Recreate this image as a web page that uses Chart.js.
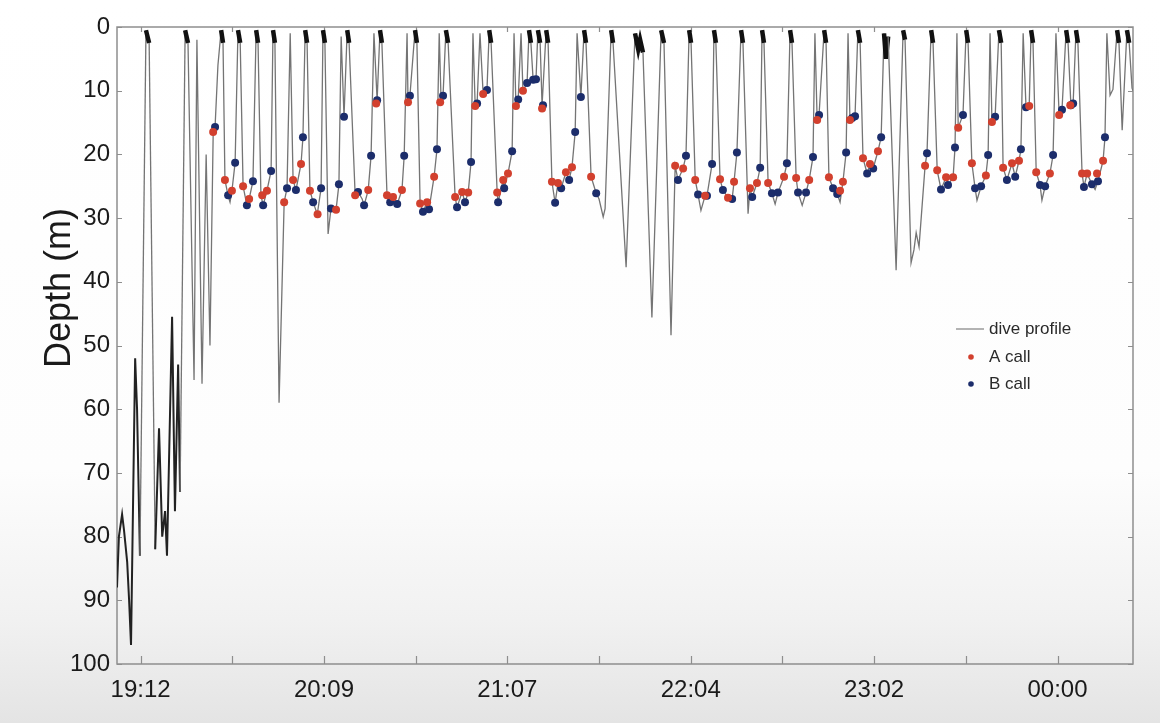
<!DOCTYPE html>
<html>
<head>
<meta charset="utf-8">
<title>Dive profile</title>
<script src="https://cdn.jsdelivr.net/npm/chart.js@4.4.1/dist/chart.umd.min.js"></script>
<style>
  html, body { margin: 0; padding: 0; }
  body {
    width: 1160px; height: 723px; overflow: hidden;
    background: linear-gradient(to bottom, #ffffff 0px, #fdfdfd 470px, #f1f1f1 620px, #e4e4e4 723px);
  }
  #wrap { position: relative; width: 1160px; height: 723px; }
</style>
</head>
<body>
<div id="wrap"><canvas id="chart"></canvas></div>
<script>
// time = minutes after 19:00, depth = metres
const diveProfile = [
  [4.6,88],[5.2,80],[6.2,76.5],[6.8,79],[7.8,84],[8.4,90],[9.0,97],[10.3,52],[10.9,60],[11.8,83],
  [13.7,0.5],[14.7,2.5],[16.6,82],[17.8,63],[18.8,80],[19.7,76],[20.3,83],[21.9,45.5],[22.8,76],[23.8,53],[24.4,73],
  [26.0,0.5],[26.9,2.5],[28.8,55.4],[29.7,2],[31.3,56],[32.6,20],[33.8,50],[34.8,17],[35.4,15.7],[36.3,6],
  [37.3,0.5],[37.9,2.5],[38.5,24],[39.5,26.5],[40.1,27.5],[40.7,25.7],[41.7,21.3],
  [42.6,0.5],[43.3,2.5],[44.2,25],[45.4,28],[46.1,27],[47.3,24.2],
  [48.3,0.5],[48.9,2.5],[49.8,26.4],[50.5,28],[51.7,25.7],[53.0,22.6],
  [53.6,0.5],[54.2,2.5],[55.5,59],[57.1,27.5],[58.0,25.3],[59.0,1],[59.9,24],[60.8,25.6],[62.4,21.5],[63.0,17.3],
  [63.7,0.5],[64.3,2.5],[65.2,25.7],[66.2,27.5],[67.5,29.4],[68.7,25.3],
  [69.3,0.5],[69.9,2.5],[70.9,32.5],[71.8,28.5],[73.4,28.7],[74.3,24.7],[75.0,1.5],[75.9,14.1],
  [76.9,0.5],[77.5,2.5],[79.4,26.4],[80.3,25.9],[81.6,27],[82.2,28],[83.5,25.6],[84.4,20.2],[85.3,1],[86.3,11.5],
  [87.2,0.5],[87.8,2.5],[89.4,26.4],[90.4,27.5],[91.3,26.7],[92.6,27.8],[94.1,25.6],[94.8,20.2],[95.7,1],[96.0,11.8],[96.6,10.8],
  [98.2,0.5],[98.8,2.5],[99.8,27.7],[100.7,29],[102.0,27.5],[102.6,28.6],[104.2,23.5],[105.1,19.2],[105.8,1],[106.4,11.8],[107.0,10.8],
  [107.9,0.5],[108.6,2.5],[110.8,26.7],[111.4,28.3],[113.0,25.9],[113.9,27.5],[114.9,26],[115.8,21.2],[116.4,1],[117.1,12.4],[117.7,12],[118.6,1],[119.6,10.5],[120.8,9.9],
  [121.5,0.5],[122.1,2.5],[124.0,26],[124.3,27.5],[125.9,24],[126.2,25.3],[127.4,23],[128.7,19.5],[129.3,1],[129.9,12.4],[130.6,11.4],[131.5,1],[132.1,10],[133.4,8.8],
  [134.0,0.5],[134.6,2.5],[135.3,8.3],[136.2,8.2],[136.8,0.5],[137.5,2.5],[138.1,12.3],[139.4,0.5],[140.0,2.5],
  [141.2,24.3],[142.2,27.6],[143.1,24.5],[144.1,25.3],[145.6,22.8],[146.6,24],[147.5,22],[148.5,16.5],[149.1,1],[150.3,11],
  [151.3,0.5],[151.9,2.5],[153.5,23.5],[155.1,26.1],[156.0,27],[157.3,29.8],[157.9,28.5],
  [159.8,0.5],[160.4,2.5],[164.5,37.7],[167.3,1],[168.3,3.5],[168.9,2],[169.8,4],[172.6,45.6],
  [175.5,0.5],[176.4,2.5],[178.6,48.4],[179.9,21.8],[180.8,24],[182.4,22.2],[183.3,20.2],
  [184.3,0.5],[184.9,2.5],[186.2,24],[187.1,26.3],[188.0,28.8],[189.3,26.5],[189.9,26.5],[191.5,21.5],
  [192.1,0.5],[192.7,2.5],[194.0,23.9],[194.9,25.6],[196.5,26.8],[197.8,27],[198.4,24.3],[199.3,19.7],
  [200.6,0.5],[201.2,2.5],[202.8,29.3],[203.4,25.3],[204.1,26.7],[205.6,24.5],[206.6,22.1],
  [207.2,0.5],[207.8,2.5],[209.1,24.5],[210.3,26.1],[211.3,27.8],[212.2,26],[214.1,23.5],[215.0,21.4],
  [216.0,0.5],[216.6,2.5],[217.9,23.7],[218.5,26],[219.8,28],[221.0,26],[222.0,24],[223.2,20.4],[223.8,1],[224.5,14.6],[225.1,13.8],
  [226.7,0.5],[227.3,2.5],[228.2,23.6],[229.5,25.3],[230.8,26.2],[231.7,27.5],[232.6,24.3],[233.6,19.7],[234.2,1],[234.8,14.6],[235.5,14.3],[236.4,14],
  [237.3,0.5],[238.0,2.5],[238.9,20.6],[240.2,23],[241.1,21.5],[242.1,22.2],[243.6,19.5],[244.6,17.3],
  [245.5,1],[246.1,5],[246.8,1.5],[249.3,38.2],[251.5,0.5],[252.1,2],[254.0,37],[254.9,35],[255.6,32.3],[256.5,34.5],[258.4,21.8],[259.0,19.8],
  [260.3,0.5],[260.9,2.5],[262.2,22.5],[263.4,25.5],[265.0,23.6],[265.6,24.8],[267.2,23.6],[267.8,18.9],[268.4,1],[268.8,15.8],[270.3,13.8],
  [271.3,0.5],[271.9,2.5],[273.1,21.4],[274.1,25.3],[274.7,27.2],[276.0,25],[277.5,23.3],[278.2,20.1],[278.8,1],[279.4,14.9],[280.4,14.1],
  [281.6,0.5],[282.3,2.5],[282.9,22.1],[284.1,24],[285.7,21.4],[286.7,23.5],[287.9,21],[288.5,19.2],[289.2,1],[290.1,12.6],[291.1,12.4],
  [291.7,0.5],[292.3,2.5],[293.3,22.8],[294.5,24.8],[295.1,27.2],[296.1,25],[297.6,23],[298.6,20.1],[299.5,1],[300.5,13.8],[301.4,13],
  [302.7,0.5],[303.3,2.5],[304.2,12.3],[304.9,12],[305.8,0.5],[306.4,2.5],
  [307.7,23],[308.3,25.1],[309.3,23],[310.8,24.7],[311.8,25.5],[312.7,24.2],[314.3,21],[314.9,17.3],
  [315.5,1],[316.5,10.7],[317.4,9.8],[318.7,0.5],[319.3,2.5],[320.3,16.2],[321.8,0.5],[322.5,2.5],[323.4,9.6],[323.7,10]
];

const aCalls = [
  [34.8,16.5],[38.5,24],[40.7,25.7],[44.2,25],[46.1,27],[50.2,26.4],[51.7,25.7],[57.1,27.5],[59.9,24],[62.4,21.5],
  [65.2,25.7],[67.6,29.4],[73.4,28.7],[79.4,26.4],[83.5,25.6],[86.0,12],[89.4,26.4],[91.3,26.7],[94.1,25.6],[96.0,11.8],
  [99.8,27.7],[102.0,27.5],[104.2,23.5],[106.1,11.8],[110.8,26.7],[113.0,25.9],[114.9,26],[117.1,12.4],[119.6,10.5],
  [124.0,26],[125.9,24],[127.4,23],[129.9,12.4],[132.1,10],[138.1,12.8],[141.2,24.3],[143.1,24.5],[145.6,22.8],[147.5,22],
  [153.5,23.5],[179.9,21.8],[182.4,22.2],[186.2,24],[189.3,26.5],[194.0,23.9],[196.5,26.8],[198.4,24.3],[203.4,25.3],
  [205.6,24.5],[209.1,24.5],[214.1,23.5],[217.9,23.7],[222.0,24],[224.5,14.6],[228.2,23.6],[231.7,25.7],[232.6,24.3],
  [234.8,14.6],[238.9,20.6],[241.1,21.5],[243.6,19.5],[258.4,21.8],[262.2,22.5],[265.0,23.6],[267.2,23.6],[268.8,15.8],
  [273.1,21.4],[277.5,23.3],[279.4,14.9],[282.9,22.1],[285.7,21.4],[287.9,21],[291.1,12.4],[293.3,22.8],[297.6,23],
  [300.5,13.8],[304.0,12.3],[307.7,23],[309.3,23],[312.4,23],[314.3,21]
];

const bCalls = [
  [35.4,15.7],[39.5,26.4],[41.7,21.3],[45.4,28],[47.3,24.2],[50.5,28],[53.0,22.6],[58.0,25.3],[60.8,25.6],[63.0,17.3],
  [66.2,27.5],[68.7,25.3],[71.8,28.5],[74.3,24.7],[75.9,14.1],[80.3,25.9],[82.2,28],[84.4,20.2],[86.3,11.5],[90.4,27.5],
  [92.6,27.8],[94.8,20.2],[96.6,10.8],[100.7,29],[102.6,28.6],[105.1,19.2],[107.0,10.8],[111.4,28.3],[113.9,27.5],
  [115.8,21.2],[117.7,12],[120.8,9.9],[124.3,27.5],[126.2,25.3],[128.7,19.5],[130.6,11.4],[133.4,8.8],[135.3,8.3],
  [136.2,8.2],[138.4,12.3],[142.2,27.6],[144.1,25.3],[146.6,24],[148.5,16.5],[150.3,11],[155.1,26.1],[180.8,24],
  [183.3,20.2],[187.1,26.3],[189.9,26.5],[191.5,21.5],[194.9,25.6],[197.8,27],[199.3,19.7],[204.1,26.7],[206.6,22.1],
  [210.3,26.1],[212.2,26],[215.0,21.4],[218.5,26],[221.0,26],[223.2,20.4],[225.1,13.8],[229.5,25.3],[230.8,26.2],
  [233.6,19.7],[235.5,14.3],[236.4,14],[240.2,23],[242.1,22.2],[244.6,17.3],[259.0,19.8],[263.4,25.5],[265.6,24.8],
  [267.8,18.9],[270.3,13.8],[274.1,25.3],[276.0,25],[278.2,20.1],[280.4,14.1],[284.1,24],[286.7,23.5],[288.5,19.2],
  [290.1,12.6],[294.5,24.8],[296.1,25],[298.6,20.1],[301.4,13],[304.2,12.3],[304.9,12],[308.3,25.1],[310.8,24.7],
  [312.7,24.2],[314.9,17.3]
];

const xTicks = [12, 40.8, 69.6, 98.4, 127.2, 156, 184.8, 213.6, 242.4, 271.2, 300];
const xTickLabels = ['19:12', '', '20:09', '', '21:07', '', '22:04', '', '23:02', '', '00:00'];
const yTicks = [0, 10, 20, 30, 40, 50, 60, 70, 80, 90, 100];

const RED = '#d2402e';
const BLUE = '#1c2d6b';
const FONT = '"Liberation Sans", Arial, Helvetica, sans-serif';

const toXY = arr => arr.map(([t, d]) => ({ x: t, y: d }));
const atSurface = c => c.p0.parsed.y < 6 && c.p1.parsed.y < 6;
const atDepth = c => c.p0.parsed.y > 40 && c.p1.parsed.y > 40;

const framePlugin = {
  id: 'frame',
  beforeDatasetsDraw(chart) {
    const { ctx, chartArea: a, scales: { x, y } } = chart;
    ctx.save();
    ctx.strokeStyle = '#8e8e8e';
    ctx.lineWidth = 1.5;
    ctx.strokeRect(a.left, a.top, a.right - a.left, a.bottom - a.top);
    ctx.lineWidth = 1.2;
    ctx.beginPath();
    xTicks.forEach(v => {
      const px = Math.round(x.getPixelForValue(v)) + 0.5;
      ctx.moveTo(px, a.bottom); ctx.lineTo(px, a.bottom - 8);
      ctx.moveTo(px, a.top); ctx.lineTo(px, a.top + 5);
    });
    yTicks.forEach(v => {
      const py = Math.round(y.getPixelForValue(v)) + 0.5;
      ctx.moveTo(a.left, py); ctx.lineTo(a.left + 5, py);
      ctx.moveTo(a.right, py); ctx.lineTo(a.right - 5, py);
    });
    ctx.stroke();
    ctx.restore();
  },
  afterDraw(chart) {
    const { ctx, chartArea: a } = chart;
    ctx.save();
    // y axis title
    ctx.fillStyle = '#1a1a1a';
    ctx.font = '36px ' + FONT;
    ctx.translate(70, 288);
    ctx.rotate(-Math.PI / 2);
    ctx.textAlign = 'center';
    ctx.textBaseline = 'alphabetic';
    ctx.fillText('Depth (m)', 0, 0);
    ctx.restore();

    // legend
    ctx.save();
    const lx = a.right - 177;
    const rows = [329, 357, 384];
    ctx.strokeStyle = '#9a9a9a';
    ctx.lineWidth = 1.5;
    ctx.beginPath();
    ctx.moveTo(lx, rows[0]); ctx.lineTo(lx + 28, rows[0]);
    ctx.stroke();
    [[RED, rows[1]], [BLUE, rows[2]]].forEach(([c, ry]) => {
      ctx.fillStyle = c;
      ctx.beginPath();
      ctx.arc(lx + 15, ry, 2.8, 0, Math.PI * 2);
      ctx.fill();
    });
    ctx.fillStyle = '#2a2a2a';
    ctx.font = '17px ' + FONT;
    ctx.textBaseline = 'middle';
    ctx.textAlign = 'left';
    ctx.fillText('dive profile', lx + 33, rows[0]);
    ctx.fillText('A call', lx + 33, rows[1]);
    ctx.fillText('B call', lx + 33, rows[2]);
    ctx.restore();
  }
};

new Chart(document.getElementById('chart'), {
  type: 'scatter',
  data: {
    datasets: [
      {
        label: 'A call',
        data: toXY(aCalls),
        backgroundColor: RED,
        borderColor: RED,
        borderWidth: 0,
        pointRadius: 4,
        order: 0
      },
      {
        label: 'B call',
        data: toXY(bCalls),
        backgroundColor: BLUE,
        borderColor: BLUE,
        borderWidth: 0,
        pointRadius: 4,
        order: 1
      },
      {
        label: 'dive profile',
        data: toXY(diveProfile),
        showLine: true,
        pointRadius: 0,
        borderColor: '#747474',
        borderWidth: 1.3,
        order: 2,
        segment: {
          borderColor: c => atSurface(c) ? '#111111' : atDepth(c) ? '#222222' : undefined,
          borderWidth: c => atSurface(c) ? 4.5 : atDepth(c) ? 2 : undefined
        }
      }
    ]
  },
  options: {
    responsive: true,
    maintainAspectRatio: false,
    animation: false,
    events: [],
    layout: { padding: { top: 27, right: 27, left: 0, bottom: 0 } },
    plugins: {
      legend: { display: false },
      tooltip: { enabled: false }
    },
    scales: {
      x: {
        type: 'linear',
        min: 4.6,
        max: 323.7,
        grid: { display: false, drawTicks: false },
        border: { display: false },
        afterBuildTicks: s => { s.ticks = xTicks.map(v => ({ value: v })); },
        afterFit: s => { s.height = 59; },
        ticks: {
          autoSkip: false,
          maxRotation: 0,
          padding: 12,
          color: '#1a1a1a',
          font: { family: FONT, size: 24 },
          callback: (v, i) => xTickLabels[i]
        }
      },
      y: {
        type: 'linear',
        reverse: true,
        min: 0,
        max: 100,
        grid: { display: false, drawTicks: false },
        border: { display: false },
        afterBuildTicks: s => { s.ticks = yTicks.map(v => ({ value: v })); },
        afterFit: s => { s.width = 117; },
        ticks: {
          padding: 7,
          color: '#1a1a1a',
          font: { family: FONT, size: 24 }
        }
      }
    }
  },
  plugins: [framePlugin]
});
</script>
</body>
</html>
